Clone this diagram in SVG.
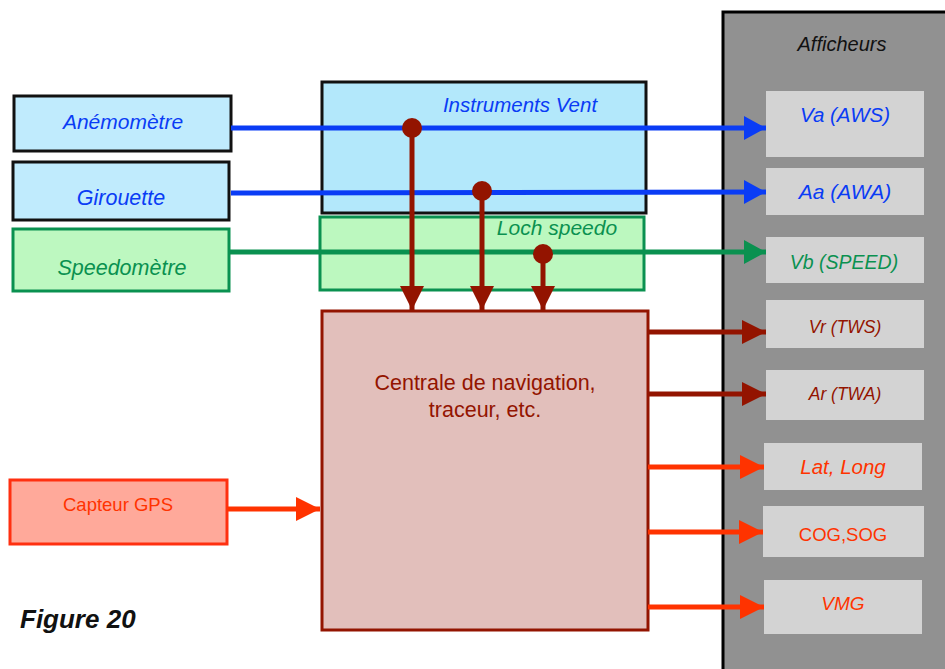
<svg xmlns="http://www.w3.org/2000/svg" width="945" height="669" viewBox="0 0 945 669">
  <style>
    text { font-family: "Liberation Sans", "DejaVu Sans", sans-serif; text-anchor: middle; }
    .it { font-style: italic; }
    .blue { fill: #0a3cf5; }
    .green { fill: #0a9150; }
    .dred { fill: #931400; }
    .red { fill: #ff3300; }
    .disp { fill: #d3d3d3; }
    .ln { fill: none; stroke-width: 5; }
    .lb { stroke: #0a3cf5; }
    .lg { stroke: #0a9150; }
    .ld { stroke: #931400; }
    .lr { stroke: #ff3300; }
  </style>
  <defs>
    <marker id="ahBlue" markerUnits="userSpaceOnUse" markerWidth="24" markerHeight="26" refX="22" refY="12" orient="auto">
      <path d="M0,0 L22,12 L0,24 z" fill="#0a3cf5"/>
    </marker>
    <marker id="ahGreen" markerUnits="userSpaceOnUse" markerWidth="24" markerHeight="26" refX="22" refY="12" orient="auto">
      <path d="M0,0 L22,12 L0,24 z" fill="#0a9150"/>
    </marker>
    <marker id="ahDred" markerUnits="userSpaceOnUse" markerWidth="26" markerHeight="26" refX="24" refY="12" orient="auto">
      <path d="M0,0 L24,12 L0,24 z" fill="#931400"/>
    </marker>
    <marker id="ahRed" markerUnits="userSpaceOnUse" markerWidth="26" markerHeight="26" refX="24" refY="12" orient="auto">
      <path d="M0,0 L24,12 L0,24 z" fill="#ff3300"/>
    </marker>
  </defs>

  <rect width="945" height="669" fill="#ffffff"/>

  <!-- Display panel -->
  <g id="afficheurs">
    <rect x="723" y="12" width="240" height="680" fill="#919191" stroke="#000" stroke-width="3"/>
    <text x="842" y="51" font-size="20" class="it" fill="#111">Afficheurs</text>
  </g>
  <g id="disp-va">
    <rect class="disp" x="766" y="91" width="158" height="66"/>
    <text x="845" y="122" font-size="20.5" class="it blue">Va (AWS)</text>
  </g>
  <g id="disp-aa">
    <rect class="disp" x="766" y="168" width="158" height="47"/>
    <text x="845" y="199" font-size="21" class="it blue">Aa (AWA)</text>
  </g>
  <g id="disp-vb">
    <rect class="disp" x="766" y="237" width="158" height="46"/>
    <text x="844" y="269" font-size="19.5" class="it green">Vb (SPEED)</text>
  </g>
  <g id="disp-vr">
    <rect class="disp" x="766" y="300" width="158" height="48"/>
    <text x="845" y="333" font-size="17.5" class="it dred">Vr (TWS)</text>
  </g>
  <g id="disp-ar">
    <rect class="disp" x="766" y="370" width="158" height="50"/>
    <text x="845" y="400" font-size="17.5" class="it dred">Ar (TWA)</text>
  </g>
  <g id="disp-latlong">
    <rect class="disp" x="764" y="443" width="158" height="47"/>
    <text x="843" y="474" font-size="20.5" class="it red">Lat, Long</text>
  </g>
  <g id="disp-cogsog">
    <rect class="disp" x="763" y="506" width="161" height="51"/>
    <text x="843" y="541" font-size="18.5" class="red">COG,SOG</text>
  </g>
  <g id="disp-vmg">
    <rect class="disp" x="764" y="580" width="158" height="54"/>
    <text x="843" y="610" font-size="19" class="it red">VMG</text>
  </g>

  <!-- Sensors -->
  <g id="anemometre">
    <rect x="14" y="96" width="217" height="55" fill="#c0ebfd" stroke="#111" stroke-width="3"/>
    <text x="123" y="129" font-size="21" class="it blue">Anémomètre</text>
  </g>
  <g id="girouette">
    <rect x="13" y="162" width="216" height="58" fill="#c0ebfd" stroke="#111" stroke-width="3"/>
    <text x="121" y="205" font-size="21.5" class="it blue">Girouette</text>
  </g>
  <g id="speedometre">
    <rect x="13" y="229" width="216" height="62" fill="#bdf8c0" stroke="#0a9150" stroke-width="3"/>
    <text x="122" y="275" font-size="21.5" class="it green">Speedomètre</text>
  </g>
  <g id="capteur-gps">
    <rect x="10" y="480" width="217" height="64" fill="#ffa99a" stroke="#ff3010" stroke-width="3"/>
    <text x="118" y="511" font-size="18.5" class="red">Capteur GPS</text>
  </g>

  <!-- Instrument units -->
  <g id="instruments-vent">
    <rect x="322" y="82" width="324" height="131" fill="#b3e8fb" stroke="#111" stroke-width="3"/>
    <text x="520" y="112" font-size="20.5" class="it blue">Instruments Vent</text>
  </g>
  <g id="loch-speedo">
    <rect x="320" y="217" width="324" height="73" fill="#bcf8bf" stroke="#0a9150" stroke-width="3"/>
    <text x="557" y="235" font-size="21" class="it green">Loch speedo</text>
  </g>
  <g id="centrale">
    <rect x="322" y="311" width="326" height="319" fill="#e2bfbb" stroke="#931400" stroke-width="3"/>
    <text x="485" y="390" font-size="21.5" class="dred">Centrale de navigation,</text>
    <text x="485" y="417" font-size="21.5" class="dred">traceur, etc.</text>
  </g>

  <g id="connectors">
    <!-- sensor feeds to displays -->
    <line class="ln lb" x1="231" y1="128" x2="766" y2="128" marker-end="url(#ahBlue)"/>
    <line class="ln lb" x1="231" y1="193" x2="766" y2="192" marker-end="url(#ahBlue)"/>
    <line class="ln lg" x1="229" y1="252" x2="766" y2="252" marker-end="url(#ahGreen)"/>

    <!-- taps to the navigation unit -->
    <circle cx="412" cy="128" r="10" fill="#931400"/>
    <circle cx="482" cy="191" r="10" fill="#931400"/>
    <circle cx="543" cy="254" r="10" fill="#931400"/>
    <line class="ln ld" x1="412" y1="128" x2="412" y2="310" marker-end="url(#ahDred)"/>
    <line class="ln ld" x1="482" y1="191" x2="482" y2="310" marker-end="url(#ahDred)"/>
    <line class="ln ld" x1="543" y1="254" x2="543" y2="310" marker-end="url(#ahDred)"/>

    <!-- navigation unit outputs -->
    <line class="ln ld" x1="648" y1="332" x2="766" y2="332" marker-end="url(#ahDred)"/>
    <line class="ln ld" x1="648" y1="394" x2="766" y2="394" marker-end="url(#ahDred)"/>
    <line class="ln lr" x1="648" y1="467" x2="764" y2="467" marker-end="url(#ahRed)"/>
    <line class="ln lr" x1="648" y1="532" x2="763" y2="532" marker-end="url(#ahRed)"/>
    <line class="ln lr" x1="648" y1="607" x2="764" y2="607" marker-end="url(#ahRed)"/>

    <!-- GPS input -->
    <line class="ln lr" x1="227" y1="509" x2="320" y2="509" marker-end="url(#ahRed)"/>
  </g>

  <text x="20" y="628" font-size="26" font-weight="bold" font-style="italic" fill="#111" style="text-anchor:start">Figure 20</text>
</svg>
